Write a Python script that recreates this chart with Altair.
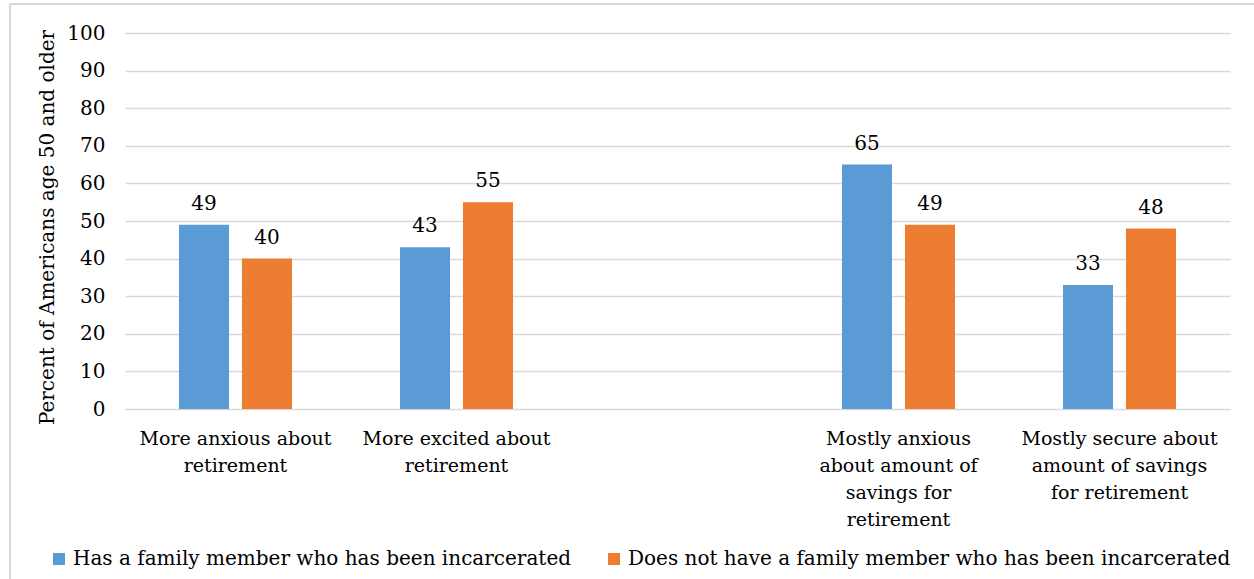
import altair as alt
import pandas as pd

# Response categories ("|" marks a line break in the axis label); the blank
# entry leaves an empty slot between the two question groups.
categories = [
    "More anxious about|retirement",
    "More excited about|retirement",
    " ",
    "Mostly anxious|about amount of|savings for|retirement",
    "Mostly secure about|amount of savings|for retirement",
]
answered = [categories[0], categories[1], categories[3], categories[4]]

series = [
    "Has a family member who has been incarcerated",
    "Does not have a family member who has been incarcerated",
]
has_member = [49, 43, 65, 33]
no_member = [40, 55, 49, 48]
colors = ["#5B9BD5", "#ED7D31"]
y_ticks = [0, 10, 20, 30, 40, 50, 60, 70, 80, 90, 100]

rows = []
for cat, a, b in zip(answered, has_member, no_member):
    rows.append({"category": cat, "group": series[0], "value": a})
    rows.append({"category": cat, "group": series[1], "value": b})
df = pd.DataFrame(rows)

FONT = "DejaVu Serif"
W, H = 1105, 376

x_enc = alt.X(
    "category:N",
    scale=alt.Scale(domain=categories, paddingInner=0, paddingOuter=0),
    axis=alt.Axis(
        title=None,
        labelAngle=0,
        labelExpr="split(datum.label, '|')",
        labelFontSize=19,
        labelLineHeight=27,
        labelBaseline="top",
        labelPadding=20,
        labelColor="#000000",
        labelFont=FONT,
        domain=False,
        ticks=False,
        labelLimit=300,
    ),
)
xoff_enc = alt.XOffset(
    "group:N",
    scale=alt.Scale(domain=series, paddingInner=0.206, paddingOuter=0.857),
)
y_enc = alt.Y(
    "value:Q",
    scale=alt.Scale(domain=[0, 100]),
    axis=alt.Axis(
        title="Percent of Americans age 50 and older",
        titleFont=FONT,
        titleFontSize=20,
        titleFontWeight="normal",
        titleColor="#000000",
        titleAngle=270,
        titleAlign="center",
        titleBaseline="middle",
        titleX=-78,
        titleY=194,
        values=y_ticks,
        tickCount=len(y_ticks),
        labelOverlap=False,
        labelFont=FONT,
        labelFontSize=20,
        labelColor="#000000",
        labelPadding=20,
        ticks=False,
        domain=False,
        grid=True,
        gridColor="#D9D9D9",
        gridWidth=1.5,
    ),
)

base = alt.Chart(df)

bars = base.mark_bar().encode(
    x=x_enc,
    xOffset=xoff_enc,
    y=y_enc,
    color=alt.Color(
        "group:N",
        scale=alt.Scale(domain=series, range=colors),
        legend=alt.Legend(
            title=None,
            orient="none",
            direction="horizontal",
            legendX=-76,
            legendY=516,
            symbolType="square",
            symbolSize=144,
            symbolStrokeWidth=0,
            symbolOpacity=1,
            labelFont=FONT,
            labelFontSize=20,
            labelColor="#000000",
            labelOffset=4,
            labelLimit=700,
            columnPadding=32,
        ),
    ),
)

labels = base.mark_text(
    font=FONT, fontSize=20, color="#000000", baseline="bottom", dy=-11
).encode(
    x=x_enc,
    xOffset=xoff_enc,
    y=y_enc,
    text="value:Q",
)

# Thin frame around the figure (top and left edges)
frame = alt.Chart(alt.Data(values=[{}]))
frame_left = frame.mark_rule(color="#D9D9D9", strokeWidth=2).encode(
    x=alt.value(-115), y=alt.value(-29), y2=alt.value(560)
)
frame_top = frame.mark_rule(color="#D9D9D9", strokeWidth=2).encode(
    x=alt.value(-115), x2=alt.value(1140), y=alt.value(-29)
)

chart = (
    alt.layer(bars, labels, frame_left, frame_top)
    .properties(
        width=W,
        height=H,
        autosize=alt.AutoSizeParams(type="none"),
        padding={"left": 125, "top": 33, "right": 24, "bottom": 170},
        background="#FFFFFF",
    )
    .configure_view(strokeWidth=0)
)

chart.save("out.html", embed_options={"renderer": "svg", "actions": False})
